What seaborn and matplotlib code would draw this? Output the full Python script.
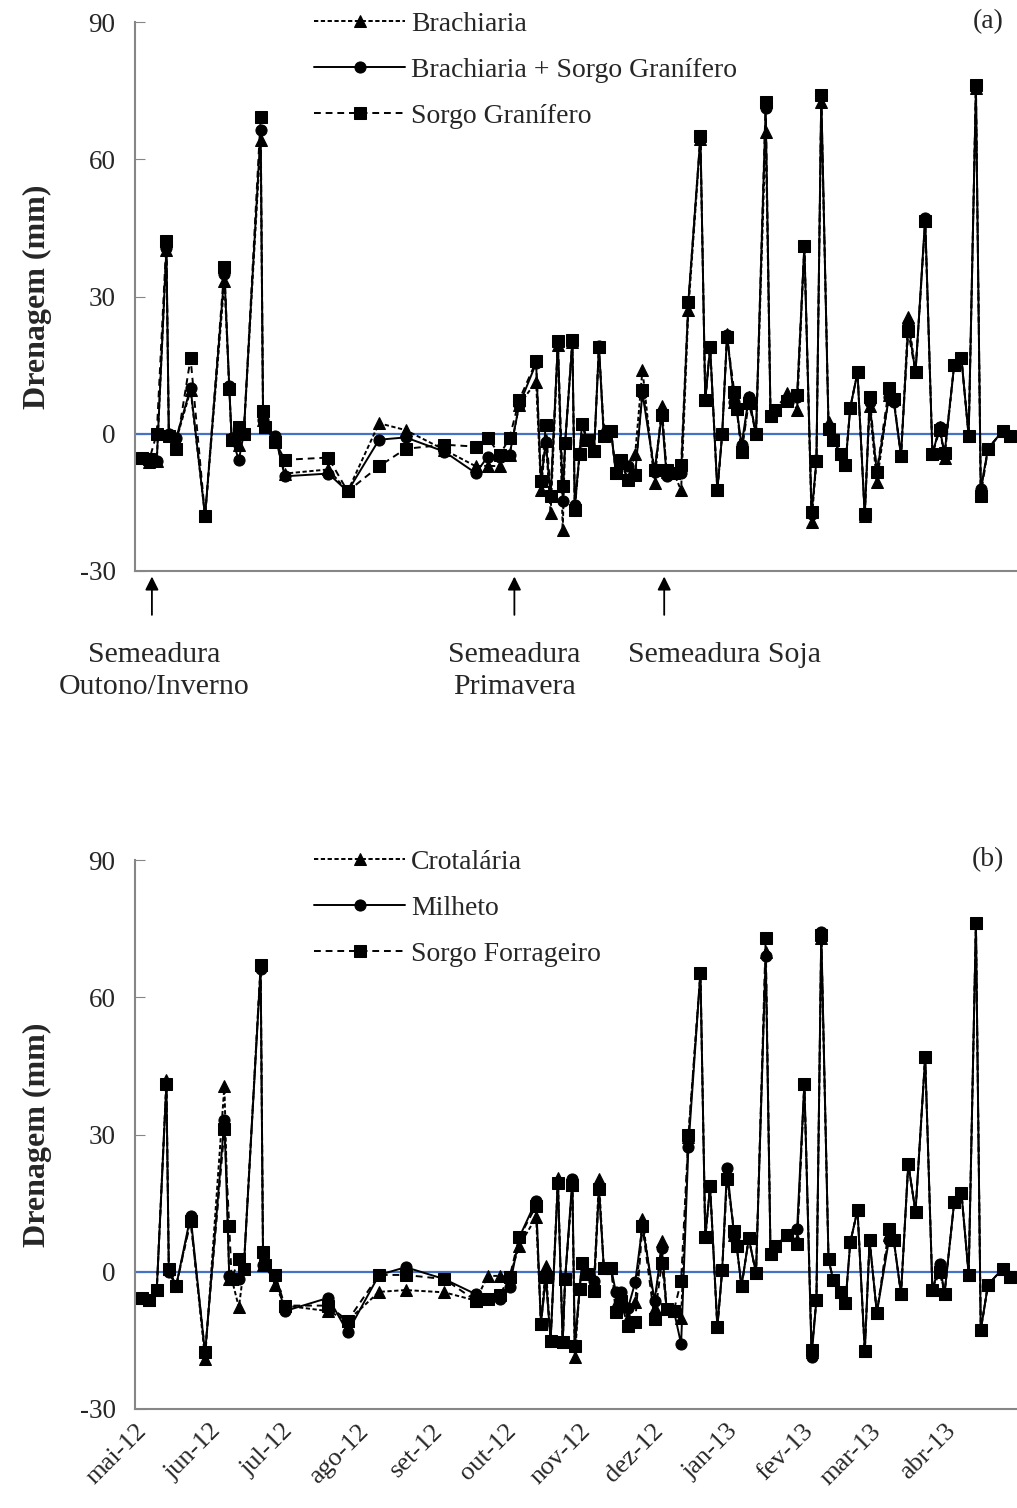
import matplotlib
matplotlib.use("Agg")
import matplotlib.pyplot as plt
import seaborn as sns
import pandas as pd
import numpy as np

dates = ["2012-05-04","2012-05-07","2012-05-10","2012-05-14","2012-05-15","2012-05-18","2012-05-24","2012-05-30",
"2012-06-07","2012-06-09","2012-06-10","2012-06-13","2012-06-15","2012-06-22","2012-06-23","2012-06-24","2012-06-28",
"2012-07-02","2012-07-20","2012-07-28","2012-08-10","2012-08-21","2012-09-06","2012-09-19","2012-09-24","2012-09-29",
"2012-10-03","2012-10-07","2012-10-14","2012-10-16","2012-10-18","2012-10-20","2012-10-23","2012-10-25","2012-10-26",
"2012-10-29","2012-10-30","2012-11-01","2012-11-02","2012-11-04","2012-11-07","2012-11-09","2012-11-11","2012-11-14",
"2012-11-16","2012-11-18","2012-11-21","2012-11-24","2012-11-27","2012-12-02","2012-12-05","2012-12-07","2012-12-10",
"2012-12-13","2012-12-16","2012-12-21","2012-12-23","2012-12-25","2012-12-28","2012-12-30","2013-01-01","2013-01-04",
"2013-01-05","2013-01-07","2013-01-10","2013-01-13","2013-01-17","2013-01-19","2013-01-21","2013-01-26","2013-01-30",
"2013-02-02","2013-02-05","2013-02-07","2013-02-09","2013-02-12","2013-02-14","2013-02-17","2013-02-19","2013-02-21",
"2013-02-24","2013-02-27","2013-03-01","2013-03-04","2013-03-09","2013-03-11","2013-03-14","2013-03-17","2013-03-20",
"2013-03-24","2013-03-27","2013-03-30","2013-04-01","2013-04-05","2013-04-08","2013-04-11","2013-04-14","2013-04-16",
"2013-04-19","2013-04-25","2013-04-28"]

# Panel (a)
brachiaria = [-5.4,-6.2,-6,40.2,0,-1.5,9.5,-18,33.3,10,-1.3,-2.5,0,64.3,3,1.4,-0.8,-8.7,-7.8,-12.6,2.3,0.8,-3.5,-7.1,-7,-7.1,
-4.6,6.3,11.4,-12.2,-1.5,-17.3,19.5,-21,-2,20,-16,-4.4,2.2,-1.3,-3.7,19,0.9,0.6,-8.5,-6.4,-9.9,-4.4,14,-10.8,6,-8.3,-8.6,
-12.4,27.1,64.5,7.3,19,-12.4,0,21.8,7,5.5,-4,8,0,65.9,3.9,5.3,8.8,5.3,41,-19.2,-6,72.5,2.6,-1.3,-4.4,-6.8,5.7,13.4,-18,6,
-10.6,8.5,7.6,-4.8,25.5,13.4,46.5,-4.4,1.4,-5.2,15,16.5,-0.5,75.5,-12.5,-3.3,0.6,-0.5]
brach_sorgo = [-5.4,-6.2,-6,40.5,0,-1,10,-18,35,10.5,-1,-5.7,0,66.3,3,1.4,-0.5,-9.3,-8.7,-12.6,-1.3,-0.8,-3.9,-8.6,-5,-5,
-4.6,6.3,15.4,-10.4,-1.7,-13.7,19.8,-14.8,-2,20,-15.5,-4.2,2.2,-1.3,-3.7,19.1,-0.2,0.6,-8.5,-6.4,-7.1,-8.7,8.9,-8.3,4.2,
-9.3,-8.6,-8.5,28.9,65.1,7.3,19,-12.4,0,21.5,7,5.5,-2.5,8,0,71.3,3.9,5.3,7.5,8,41,-17.5,-5.8,74,1.5,-1.3,-4.4,-6.8,5.7,
13.4,-18,7,-8.5,8,7,-4.8,23.9,13.4,47.2,-4.4,1.4,-4.5,15,16.5,-0.5,75.5,-12,-3.3,0.6,-0.5]
sorgo_granifero = [-5.2,-5.5,0,42.2,-0.5,-3.3,16.5,-18,36.4,9.8,-1.3,1.4,0,69.2,4.9,1.4,-1.7,-5.7,-5.2,-12.6,-7.1,-3.3,
-2.4,-2.8,-0.9,-4.6,-0.9,7.4,15.8,-10.4,2,-13.5,20.2,-11.5,-2,20.5,-16.6,-4.4,2.2,-1.3,-3.7,19,-0.6,0.6,-8.5,-5.7,-10,-9,
9.6,-7.9,4.2,-7.9,-8.6,-6.8,28.9,65.1,7.3,19,-12.4,0,21.2,9.2,5.5,-4,6.8,0,72.5,3.9,5.3,7.2,8.4,41,-17.2,-6,74,1,-1.3,
-4.4,-6.8,5.7,13.4,-17.5,8,-8.3,9.9,7.6,-4.8,22.4,13.4,46.5,-4.4,0.8,-4.2,15,16.5,-0.5,76.3,-13.5,-3.3,0.6,-0.5]

# Panel (b)
crotalaria = [-5.7,-6.1,-4,42,0.6,-3.2,11.5,-19,40.7,-1.5,-1.5,-7.8,0.6,67,1.4,1.4,-2.8,-7.4,-8.6,-10.7,-4.4,-4,-4.5,-6.3,
-0.9,-0.9,-1.2,5.7,11.9,-11.4,1.3,-15.1,20.6,-15.4,-1.5,19,-18.7,-3.8,2,-0.5,-2,20.2,0.9,0.9,-7,-6,-10,-6.7,11.5,-8,6.8,
-8.2,-8.5,-10,29.5,65.4,7.5,18.7,-12.1,0.4,21.5,8,5.6,-3.2,7.3,-0.3,70,3.9,5.6,8.1,7,41.1,-17.5,-6.1,73,2.7,-1.9,-4.4,
-6.9,6.4,13.5,-17.4,6.9,-9,8,6.9,-4.8,23.6,13.1,47,-4,1,-4.8,15.2,17.3,-0.7,76.3,-12.8,-2.8,0.6,-1.1]
milheto = [-5.7,-6.1,-4,41,0,-3.2,12.2,-17.8,33.2,-1,-1.5,-1.5,0.6,66.2,1.4,1.4,-0.7,-8.6,-5.7,-13.2,-0.7,1,-1.6,-4.9,-6,-6,
-3.4,7.5,15.5,-11.4,-1.2,-15.1,19.5,-15.4,-1.5,20.2,-16,-3.8,2,-0.5,-2,18.1,0.9,0.9,-4.5,-4.5,-8,-2.3,10,-6.3,5.3,-8.2,
-8.5,-15.8,27.2,65.4,7.5,18.7,-12.1,0.4,22.7,7.5,5.6,-3.2,7.3,-0.3,69.1,3.9,5.6,8.1,9.4,41.1,-18.6,-6.1,74.2,2.7,-1.9,
-4.4,-6.9,6.4,13.5,-17.4,6.9,-9,7,6.9,-4.8,23.6,13.1,47,-4,1.8,-4.8,15.2,17.3,-0.7,76.3,-12.8,-2.8,0.6,-1.1]
sorgo_forrageiro = [-5.7,-6.1,-4,41.1,0.6,-3.2,11,-17.5,31.1,10,-1.5,2.7,0.6,67.1,4.3,1.4,-0.7,-7.4,-7.4,-10.7,-0.7,-0.7,
-1.6,-6.3,-6,-5,-1.2,7.5,14.4,-11.4,-1.2,-15.1,19.5,-15.4,-1.5,19,-16.2,-3.8,2,-0.5,-4.2,18.1,0.9,0.9,-8.9,-6.5,-11.8,-11,
10,-10.3,2,-8.2,-8.5,-2,29.8,65.4,7.5,18.7,-12.1,0.4,20.2,8.9,5.6,-3.2,7.3,-0.3,72.9,3.9,5.6,8.1,6,41.1,-17,-6.1,73.5,2.7,
-1.9,-4.4,-6.9,6.4,13.5,-17.4,6.9,-9,9.4,6.9,-4.8,23.6,13.1,47,-4,0,-4.8,15.2,17.3,-0.7,76.3,-12.8,-2.8,0.6,-1.1]

month_ticks = ["2012-05-01","2012-06-01","2012-07-01","2012-08-01","2012-09-01","2012-10-01","2012-11-01",
               "2012-12-01","2013-01-01","2013-02-01","2013-03-01","2013-04-01"]
month_labels = ["mai-12","jun-12","jul-12","ago-12","set-12","out-12","nov-12","dez-12","jan-13","fev-13","mar-13","abr-13"]

labels_a = ["Brachiaria", "Brachiaria + Sorgo Granífero", "Sorgo Granífero"]
labels_b = ["Crotalária", "Milheto", "Sorgo Forrageiro"]

sowing_dates = ["2012-05-08", "2012-10-05", "2012-12-06"]
sowing_texts = ["Semeadura\nOutono/Inverno", "Semeadura\nPrimavera", "Semeadura Soja"]
sowing_text_dates = ["2012-05-09", "2012-10-05", "2012-12-31"]

sns.set_style("white")
plt.rcParams['font.family'] = ['Liberation Serif', 'DejaVu Serif']
FS_TICK = 19.5
FS_LEG = 20
FS_ANN = 21.5
FS_YLAB = 23
FS_MON = 19

x = pd.to_datetime(dates)
W, H = 1017, 1508
fig = plt.figure(figsize=(W/100, H/100), dpi=100)
ax_a = fig.add_axes([135/W, 1-571/H, 882/W, 549/H])
ax_b = fig.add_axes([135/W, 1-1409/H, 882/W, 549/H])

styles = [dict(marker='^', linestyle=(0, (2.2, 1.3)), markersize=8.5),
          dict(marker='o', linestyle='-', markersize=8),
          dict(marker='s', linestyle=(0, (3.5, 2.5)), markersize=8)]

def draw(ax, series, labels, tag):
    ax.axhline(0, color='#4472C4', lw=1.6, zorder=1)
    for vals, lab, st in zip(series, labels, styles):
        df = pd.DataFrame({"data": x, "v": vals})
        sns.lineplot(data=df, x="data", y="v", ax=ax, color='black', lw=1.4,
                     markeredgecolor='black', markerfacecolor='black', label=lab,
                     estimator=None, sort=False, zorder=3, **st)
    ax.set_xlim(pd.Timestamp("2012-05-01"), pd.Timestamp("2013-05-01"))
    ax.set_ylim(-30, 90)
    ax.set_yticks([-30, 0, 30, 60, 90])
    ax.set_yticklabels(["-30", "0", "30", "60", "90"], fontsize=FS_TICK)
    ax.tick_params(axis='y', direction='in', length=7, color='#868686', pad=14, left=True)
    ax.tick_params(axis='x', length=0)
    for s in ['top', 'right']:
        ax.spines[s].set_visible(False)
    for s in ['left', 'bottom']:
        ax.spines[s].set_color('#868686')
        ax.spines[s].set_linewidth(1.5)
    ax.set_ylabel("Drenagem (mm)", fontsize=FS_YLAB, fontweight='bold', labelpad=20)
    ax.set_xlabel("")
    ax.set_xticks(pd.to_datetime(month_ticks))
    ax.legend(loc='upper left', bbox_to_anchor=(0.19, 1.04), frameon=False, fontsize=FS_LEG,
              handlelength=3.3, handletextpad=0.2, labelspacing=0.75, borderaxespad=0)
    ax.text(0.985, 1.0, tag, transform=ax.transAxes, ha='right', va='center', fontsize=FS_LEG)
    ax.grid(False)

draw(ax_a, [brachiaria, brach_sorgo, sorgo_granifero], labels_a, "(a)")
draw(ax_b, [crotalaria, milheto, sorgo_forrageiro], labels_b, "(b)")

ax_a.set_xticklabels([])
ax_b.set_xticklabels(month_labels, rotation=45, ha='right', va='top', rotation_mode='anchor', fontsize=FS_MON)
ax_b.tick_params(axis='x', pad=8)

for d, td, t in zip(sowing_dates, sowing_text_dates, sowing_texts):
    xd = pd.Timestamp(d)
    ax_a.annotate("", xy=(xd, -0.005), xytext=(xd, -0.085),
                  xycoords=('data', 'axes fraction'), textcoords=('data', 'axes fraction'),
                  arrowprops=dict(arrowstyle='-|>', color='black', lw=1.3, mutation_scale=20),
                  annotation_clip=False)
    ax_a.text(pd.Timestamp(td), -0.13, t, transform=ax_a.get_xaxis_transform(), ha='center', va='top',
              fontsize=FS_ANN, linespacing=1.3)

fig.savefig("out.png", dpi=100)
